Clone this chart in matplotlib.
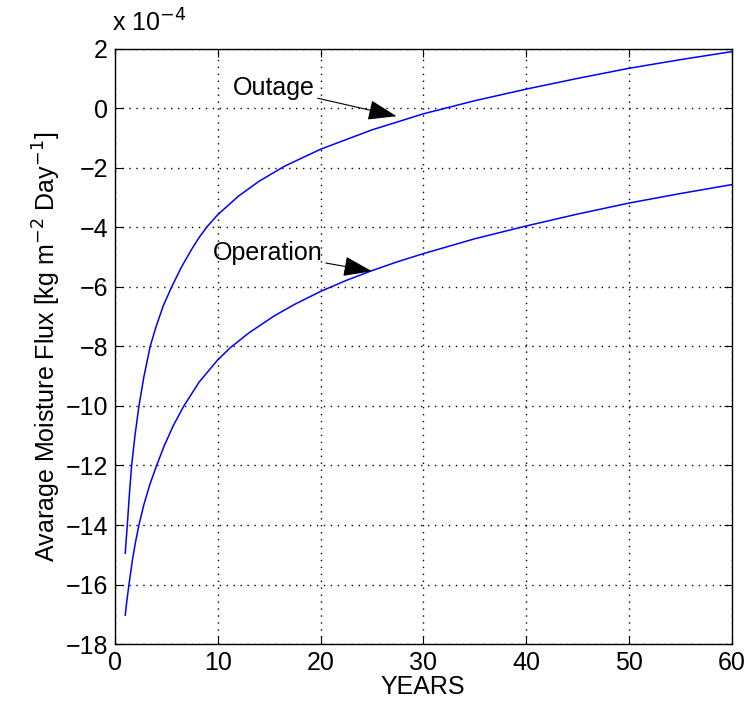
import matplotlib.pyplot as plt

# Données (valeurs en unités de 1e-4)
years_outage = [1.0, 1.1, 1.2, 1.4, 1.62, 1.95, 2.33, 2.8, 3.42, 4.0, 4.7, 5.51,
                6.5, 7.5, 8.2, 8.92, 10, 12, 14, 16.5, 20, 25, 30, 35, 40, 45,
                50, 55, 60]
flux_outage = [-14.95, -14.45, -14.0, -12.97, -12.0, -10.98, -10.0, -9.04, -8.0,
               -7.33, -6.63, -6.0, -5.31, -4.71, -4.33, -3.99, -3.57, -2.95, -2.45,
               -1.94, -1.37, -0.72, -0.18, 0.26, 0.65, 1.01, 1.35, 1.64, 1.91]

years_operation = [1.0, 1.15, 1.36, 1.7, 2.0, 2.33, 2.8, 3.4, 4.05, 4.8, 5.7, 6.7,
                   8.2, 10, 11.19, 13, 15.5, 17.5, 20, 22.5, 25, 27.5, 30, 35, 40,
                   45, 50, 55, 60]
flux_operation = [-17.03, -16.56, -16.0, -15.17, -14.57, -14.0, -13.33, -12.63,
                  -12.0, -11.33, -10.64, -10.0, -9.19, -8.45, -8.05, -7.55, -6.97,
                  -6.58, -6.15, -5.78, -5.45, -5.15, -4.88, -4.38, -3.95, -3.55,
                  -3.18, -2.86, -2.56]

x_ticks = [0, 10, 20, 30, 40, 50, 60]
y_ticks = list(range(-18, 3, 2))

plt.rcParams['font.family'] = ['Liberation Sans', 'DejaVu Sans']
taille = 18

fig = plt.figure(figsize=(7.55, 7.12), dpi=100)
ax = fig.add_axes([0.1523, 0.0955, 0.8167, 0.8357])

ax.plot(years_outage, flux_outage, color='#0000ff', linewidth=1.1)
ax.plot(years_operation, flux_operation, color='#0000ff', linewidth=1.1)

ax.set_xlim(0, 60)
ax.set_ylim(-18, 2)
ax.set_xticks(x_ticks)
ax.set_yticks(y_ticks)
ax.tick_params(direction='in', top=True, right=True, labelsize=taille,
               length=6, pad=5)
ax.grid(True, linestyle=(0, (1, 4)), color='black', linewidth=1.0)
for s in ax.spines.values():
    s.set_linewidth(1.0)

ax.set_xlabel('YEARS', fontsize=taille, labelpad=0)
ax.set_ylabel('Avarage Moisture Flux [kg m$^{-2}$ Day$^{-1}$]', fontsize=taille,
              labelpad=2)
ax.text(-0.005, 1.02, 'x 10$^{-4}$', transform=ax.transAxes, fontsize=taille,
        ha='left', va='bottom')

# Annotations avec flèches
fleche = dict(arrowstyle='-|>,head_length=1.0,head_width=0.35', color='black',
              lw=0.8, shrinkA=0, shrinkB=0)
ax.annotate('Outage', xy=(27.4, -0.26), xytext=(19.45, 0.68), fontsize=taille,
            ha='right', va='center', arrowprops=fleche)
ax.annotate('Operation', xy=(25.0, -5.47), xytext=(20.25, -4.85), fontsize=taille,
            ha='right', va='center', arrowprops=fleche)

plt.savefig('out.png', dpi=100)
plt.close()
